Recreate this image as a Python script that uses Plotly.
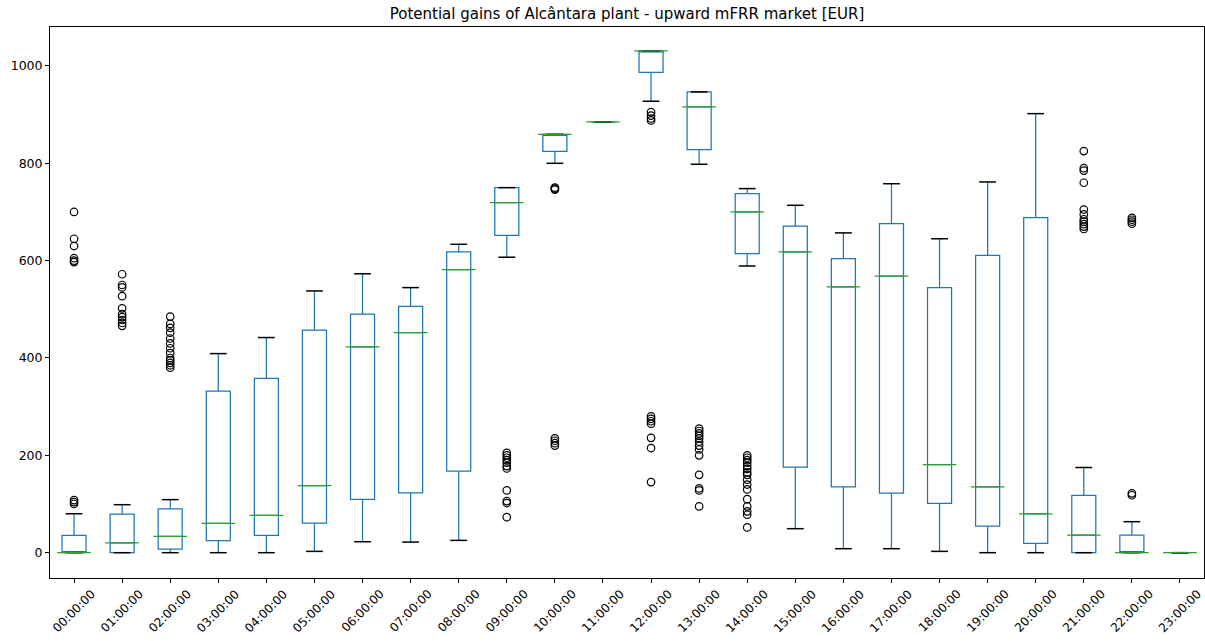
import plotly.graph_objects as go

hours = ["00:00:00", "01:00:00", "02:00:00", "03:00:00", "04:00:00", "05:00:00",
         "06:00:00", "07:00:00", "08:00:00", "09:00:00", "10:00:00", "11:00:00",
         "12:00:00", "13:00:00", "14:00:00", "15:00:00", "16:00:00", "17:00:00",
         "18:00:00", "19:00:00", "20:00:00", "21:00:00", "22:00:00", "23:00:00"]

whislo = [0, 0, 0, 0, 0, 2.7, 22.5, 21.8, 25.3, 607, 800, 885,
          927.5, 798, 589, 49.3, 8.2, 8.2, 2.7, 0, 0, 0, 0, 0]
q1 = [0, 0, 7.4, 24.6, 35.5, 61, 109.5, 123, 167.7, 652, 824.7, 885,
      987, 828, 614.5, 176, 135, 122.5, 101.3, 54.7, 19, 0, 0, 0]
median = [0, 20, 33.5, 60, 76.6, 138, 423, 452, 581.6, 719, 859.6, 885,
          1031, 915.7, 700, 617.8, 546, 568, 180.8, 135, 80, 36.3, 0, 0]
q3 = [35.6, 79, 90, 332, 358, 457.5, 490, 506, 617.8, 750, 859.6, 885,
      1031, 946.6, 737.8, 671, 604, 676, 544.6, 611, 688.4, 117.8, 36.3, 0]
whishi = [80, 98.6, 109, 409, 442, 537.7, 573, 544.6, 633.6, 750, 859.6, 885,
          1031, 946.6, 748, 713.7, 657, 758, 645, 761.7, 902, 175, 63.7, 0]

fliers = [
    [700, 645, 630, 605, 600, 597, 108, 104, 100],
    [572, 550, 545, 527, 502, 490, 484, 478, 472, 466],
    [485, 470, 462, 452, 440, 430, 420, 410, 400, 395, 390, 385, 380],
    [], [], [], [], [], [],
    [205, 200, 195, 190, 185, 178, 173, 128, 106, 102, 73],
    [750, 748, 746, 235, 230, 225, 220],
    [],
    [905, 898, 892, 888, 280, 275, 270, 265, 236, 215, 145],
    [255, 250, 245, 240, 235, 228, 220, 212, 200, 160, 132, 128, 95],
    [200, 195, 190, 185, 178, 172, 165, 160, 150, 140, 130, 110, 95, 85, 78, 52],
    [], [], [], [], [], [],
    [825, 790, 785, 760, 705, 695, 685, 680, 675, 670, 665],
    [688, 684, 680, 676, 122, 118],
    [],
]

title_text = "Potential gains of Alcântara plant - upward mFRR market [EUR]"
yticks = [0, 200, 400, 600, 800, 1000]

BLUE = "#1f77b4"
GREEN = "#2ca02c"
FONT = "DejaVu Sans"

FIG_W, FIG_H = 1205, 641

fig = go.Figure()

fig.add_trace(go.Box(
    x=hours, q1=q1, median=median, q3=q3,
    lowerfence=whislo, upperfence=whishi,
    boxpoints=False, width=0.5, whiskerwidth=0,
    line=dict(color=BLUE, width=1.25),
    fillcolor="rgba(255,255,255,0)",
    showlegend=False, hoverinfo="skip",
))

# whisker caps
fig.add_trace(go.Scatter(
    x=hours + hours, y=whislo + whishi, mode="markers",
    marker=dict(symbol="line-ew", size=12, color="black",
                line=dict(color="black", width=1.5)),
    showlegend=False, hoverinfo="skip",
))

# medians
fig.add_trace(go.Scatter(
    x=hours, y=median, mode="markers",
    marker=dict(symbol="line-ew", size=24, color=GREEN,
                line=dict(color=GREEN, width=1.25)),
    showlegend=False, hoverinfo="skip",
))

# outliers
fx, fy = [], []
for h, vals in zip(hours, fliers):
    for v in vals:
        fx.append(h)
        fy.append(v)
fig.add_trace(go.Scatter(
    x=fx, y=fy, mode="markers",
    marker=dict(symbol="circle-open", size=7.5, color="black",
                line=dict(color="black", width=1.2)),
    showlegend=False, hoverinfo="skip",
))

# rotated x tick labels, centred under ticks (matplotlib style)
for h in hours:
    fig.add_annotation(
        x=h, xref="x", y=0, yref="paper", yanchor="middle", xanchor="center",
        yshift=-33, text=h, textangle=-45, showarrow=False,
        font=dict(family=FONT, size=12, color="black"),
    )

fig.update_layout(
    width=FIG_W, height=FIG_H,
    margin=dict(l=50, r=1, t=27, b=63),
    paper_bgcolor="white", plot_bgcolor="white",
    title=dict(text=title_text, x=627 / FIG_W, xref="container", xanchor="center",
               y=1 - 13.5 / FIG_H, yref="container", yanchor="middle",
               font=dict(family=FONT, size=15, color="black")),
    font=dict(family=FONT, size=12.5, color="black"),
    showlegend=False,
)
fig.update_xaxes(
    type="category", categoryorder="array", categoryarray=hours,
    range=[-0.5, 23.5], showticklabels=False,
    ticks="outside", ticklen=4, tickcolor="black",
    showline=True, mirror=True, linecolor="black", linewidth=1,
    showgrid=False, zeroline=False,
)
fig.update_yaxes(
    range=[-52, 1080], tickvals=yticks, ticktext=[str(v) for v in yticks],
    ticks="outside", ticklen=4, tickcolor="black",
    tickfont=dict(family=FONT, size=12.5, color="black"),
    showline=True, mirror=True, linecolor="black", linewidth=1,
    showgrid=False, zeroline=False,
)

fig.write_html(
    "out.html",
    config={"displayModeBar": False},
    post_script="document.body.style.margin='0';document.body.style.overflow='hidden';",
)
